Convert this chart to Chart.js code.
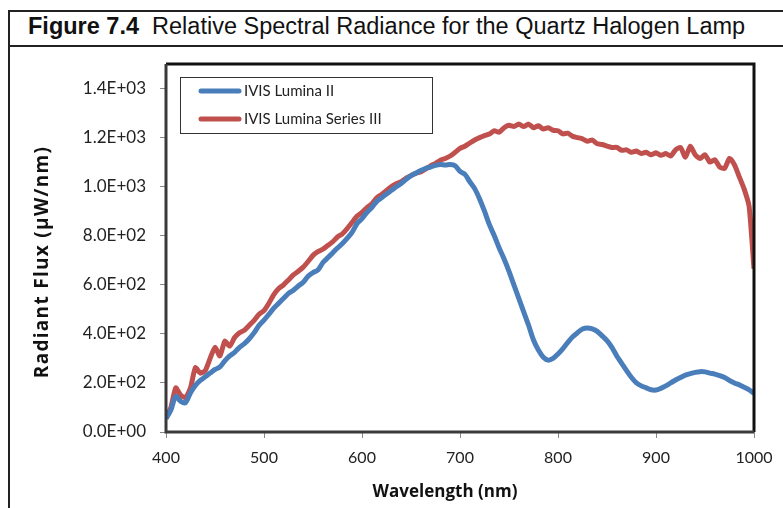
<!DOCTYPE html>
<html>
<head>
<meta charset="utf-8">
<script src="https://cdn.jsdelivr.net/npm/chart.js@4.4.1/dist/chart.umd.min.js"></script>
<style>
  html, body { margin: 0; padding: 0; background: #fff; }
  body { width: 783px; height: 508px; position: relative; overflow: hidden; }
  #frame { position: absolute; left: 8px; top: 10px; width: 800px; height: 520px;
           border-left: 2px solid #222; border-top: 2px solid #222; }
  #titlebar { position: absolute; left: 10px; top: 12px; width: 790px; height: 33px;
              border-bottom: 2px solid #222; }
  #title { position: absolute; left: 28px; top: 13px; font-family: "Liberation Sans", Arial, sans-serif;
           font-size: 23.5px; color: #111; white-space: pre; }
  #title b { font-weight: bold; }
  #wrap { position: absolute; left: 10px; top: 47px; width: 773px; height: 461px; }
</style>
</head>
<body>
<div id="frame"></div>
<div id="titlebar"></div>
<div id="title"><b>Figure 7.4</b>  Relative Spectral Radiance for the Quartz Halogen Lamp</div>
<div id="wrap"><canvas id="c" width="773" height="461"></canvas></div>
<script>
// ---- Data ----
const wavelengths = [
  400,405,410,415,420,425,430,435,440,445,450,455,460,465,470,475,480,485,490,495,
  500,505,510,515,520,525,530,535,540,545,550,555,560,565,570,575,580,585,590,595,
  600,605,610,615,620,625,630,635,640,645,650,655,660,665,670,675,680,685,690,695,
  700,705,710,715,720,725,730,735,740,745,750,755,760,765,770,775,780,785,790,795,
  800,805,810,815,820,825,830,835,840,845,850,855,860,865,870,875,880,885,890,895,
  900,905,910,915,920,925,930,935,940,945,950,955,960,965,970,975,980,985,990,995,1000
];
const luminaII = [
  55,90,145,125,120,160,190,210,225,240,255,265,290,310,325,345,360,380,405,435,
  456,480,505,525,545,565,578,595,610,635,650,660,690,710,730,750,768,790,815,850,
  870,895,915,940,955,970,985,1000,1013,1030,1045,1055,1066,1075,1080,1087,1090,1088,1090,1085,
  1062,1050,1020,992,950,900,845,800,750,705,655,600,545,490,435,375,334,305,293,300,
  318,340,365,388,405,420,424,420,410,392,372,345,310,280,250,222,200,188,180,172,
  171,178,188,200,212,222,232,238,243,246,245,240,236,230,222,210,200,192,182,172,158
];
const luminaIII = [
  55,100,180,150,140,180,262,240,250,300,345,310,370,350,385,405,415,435,455,480,
  495,525,560,585,600,620,640,655,672,695,720,735,745,760,775,795,808,830,855,880,
  895,915,930,955,968,985,1000,1012,1020,1035,1045,1055,1060,1072,1085,1095,1108,1115,1125,1140,
  1156,1165,1178,1190,1200,1208,1215,1228,1222,1240,1250,1245,1255,1245,1255,1240,1248,1235,1240,1230,
  1228,1215,1218,1205,1200,1195,1185,1190,1175,1172,1165,1160,1160,1148,1150,1140,1145,1135,1140,1130,
  1138,1128,1135,1125,1150,1160,1120,1165,1130,1115,1130,1100,1110,1080,1075,1115,1090,1040,990,920,665
];
const seriesNames = ["IVIS Lumina II", "IVIS Lumina Series III"];
const yTicks = [0, 200, 400, 600, 800, 1000, 1200, 1400];
const xTicks = [400, 500, 600, 700, 800, 900, 1000];
const xTitle = "Wavelength (nm)";
const yTitle = "Radiant Flux (\u03bcW/nm)";

const BLUE = "#4a7ebb";
const RED = "#c0504d";
const FONT = "Lato, 'Open Sans', sans-serif";
const TFONT = "bold 17px 'Open Sans', Lato, sans-serif";
const YTFONT = "bold 19px 'Open Sans', Lato, sans-serif";

const toPts = (xs, ys) => xs.map((x, i) => ({ x: x, y: ys[i] }));

const framePlugin = {
  id: "frame",
  afterDatasetsDraw(chart) {
    const { ctx, chartArea: a } = chart;
    ctx.save();
    ctx.lineWidth = 3;
    ctx.strokeStyle = "#111";
    ctx.beginPath();
    ctx.moveTo(a.left, a.top);
    ctx.lineTo(a.right, a.top);
    ctx.lineTo(a.right, a.bottom);
    ctx.stroke();
    ctx.strokeStyle = "#3a3a3a";
    ctx.beginPath();
    ctx.moveTo(a.left, a.top);
    ctx.lineTo(a.left, a.bottom);
    ctx.lineTo(a.right, a.bottom);
    ctx.stroke();
    ctx.restore();
  }
};

// axis titles (text taken from the scale options), placed as in the reference
const axisTitlePlugin = {
  id: "axisTitles",
  afterDraw(chart) {
    const { ctx, chartArea: a } = chart;
    const xs = chart.options.scales.x.title, ys = chart.options.scales.y.title;
    ctx.save();
    ctx.fillStyle = "#111";
    ctx.font = TFONT;
    ctx.textAlign = "center";
    ctx.textBaseline = "middle";
    ctx.fillText(xs.text, (a.left + a.right) / 2 - 15, a.bottom + 60);
    ctx.translate(33, (a.top + a.bottom) / 2 + 14);
    ctx.rotate(-Math.PI / 2);
    ctx.font = YTFONT;
    ctx.letterSpacing = "1.3px";
    ctx.fillText(ys.text, 0, 0);
    ctx.restore();
  }
};

const legendPlugin = {
  id: "boxLegend",
  afterDraw(chart) {
    const { ctx, chartArea: a } = chart;
    const bx = a.left + 14, by = a.top + 13, bw = 252, bh = 56;
    ctx.save();
    ctx.fillStyle = "#fff";
    ctx.fillRect(bx, by, bw, bh);
    ctx.strokeStyle = "#333";
    ctx.lineWidth = 1;
    ctx.strokeRect(bx + 0.5, by + 0.5, bw, bh);
    chart.data.datasets.forEach((ds, i) => {
      const y = by + 14 + i * 28;
      ctx.strokeStyle = ds.borderColor;
      ctx.lineWidth = 5;
      ctx.lineCap = "round";
      ctx.beginPath();
      ctx.moveTo(bx + 21, y);
      ctx.lineTo(bx + 59, y);
      ctx.stroke();
      ctx.fillStyle = "#222";
      ctx.font = "15px " + FONT;
      ctx.textBaseline = "middle";
      ctx.fillText(ds.label, bx + 64, y);
    });
    ctx.restore();
  }
};

new Chart(document.getElementById("c"), {
  type: "line",
  data: {
    datasets: [
      { label: seriesNames[0], data: toPts(wavelengths, luminaII), borderColor: BLUE,
        backgroundColor: BLUE, borderWidth: 5, pointRadius: 0, tension: 0.3, borderJoinStyle: "round" },
      { label: seriesNames[1], data: toPts(wavelengths, luminaIII), borderColor: RED,
        backgroundColor: RED, borderWidth: 5, pointRadius: 0, tension: 0.2, borderJoinStyle: "round" }
    ]
  },
  options: {
    responsive: false,
    animation: false,
    layout: { padding: { left: 0, right: 29, top: 17, bottom: 0 } },
    plugins: { legend: { display: false }, tooltip: { enabled: false } },
    scales: {
      x: {
        type: "linear", min: 400, max: 1000,
        afterBuildTicks: (s) => { s.ticks = xTicks.map(v => ({ value: v })); },
        afterFit: (s) => { s.height = 76; s.paddingLeft = 0; s.paddingRight = 0; },
        border: { display: false },
        grid: { drawOnChartArea: false, drawTicks: true, tickLength: 6, tickColor: "#888", lineWidth: 1 },
        ticks: { color: "#222", font: { family: FONT, size: 16 }, padding: 10, maxRotation: 0,
                 callback: (v) => String(v) },
        title: { display: false, text: xTitle }
      },
      y: {
        type: "linear", min: 0, max: 1500,
        afterBuildTicks: (s) => { s.ticks = yTicks.map(v => ({ value: v })); },
        afterFit: (s) => { s.width = 156; s.paddingTop = 0; s.paddingBottom = 0; },
        border: { display: false },
        grid: { drawOnChartArea: false, drawTicks: true, tickLength: 6, tickColor: "#888", lineWidth: 1 },
        ticks: { color: "#222", font: { family: FONT, size: 17 }, padding: 14,
                 callback: (v) => { const e = v === 0 ? 0 : Math.floor(Math.log10(v));
                   const m = (v / Math.pow(10, e)).toFixed(1);
                   return m + "E+" + String(e).padStart(2, "0"); } },
        title: { display: false, text: yTitle }
      }
    }
  },
  plugins: [framePlugin, legendPlugin, axisTitlePlugin]
});
</script>
</body>
</html>
